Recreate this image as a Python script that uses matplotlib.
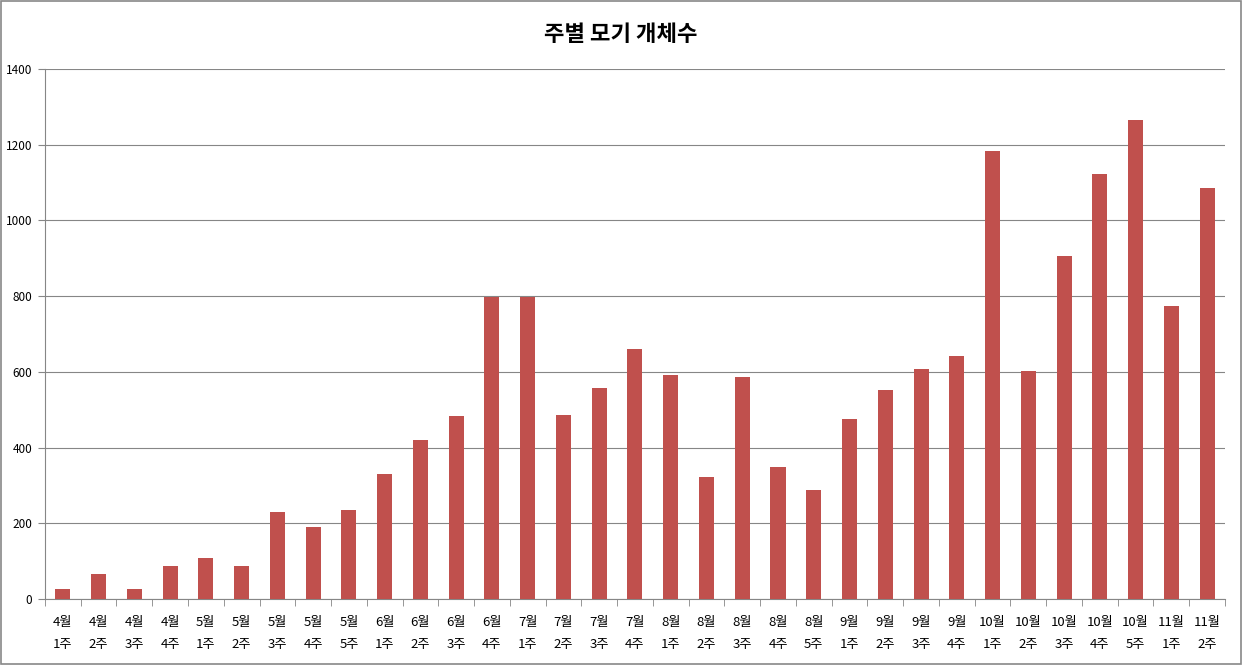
import numpy as np
import matplotlib.pyplot as plt
from matplotlib.patches import Rectangle

plt.rcParams['font.family'] = ['Noto Sans CJK KR', 'DejaVu Sans']

months = ['4월'] * 4 + ['5월'] * 5 + ['6월'] * 4 + ['7월'] * 4 + ['8월'] * 5 + \
         ['9월'] * 4 + ['10월'] * 5 + ['11월'] * 2
weeks = ['1주', '2주', '3주', '4주',
         '1주', '2주', '3주', '4주', '5주',
         '1주', '2주', '3주', '4주',
         '1주', '2주', '3주', '4주',
         '1주', '2주', '3주', '4주', '5주',
         '1주', '2주', '3주', '4주',
         '1주', '2주', '3주', '4주', '5주',
         '1주', '2주']
counts = [26, 66, 26, 87, 108, 87, 230, 190, 235, 330, 420, 483, 798,
          798, 486, 557, 660, 592, 322, 586, 349, 288, 475, 552, 607, 642,
          1183, 602, 906, 1122, 1265, 774, 1086]
yticks = [0, 200, 400, 600, 800, 1000, 1200, 1400]

fig = plt.figure(figsize=(12.42, 6.65), dpi=100)
fig.patches.append(Rectangle((0.001, 0.001), 0.998, 0.997, transform=fig.transFigure,
                             fill=False, edgecolor='#888888', linewidth=1.2))
ax = fig.add_axes([0.0362, 0.0992, 0.9501, 0.797])

x = np.arange(len(counts))
ax.bar(x, counts, width=0.42, color='#c0504d', zorder=3)

ax.set_xlim(-0.5, len(counts) - 0.5)
ax.set_ylim(0, 1400)
ax.set_yticks(yticks)
ax.set_yticklabels([str(v) for v in yticks], fontsize=8.5)
ax.yaxis.grid(True, color='#868686', linewidth=0.8, zorder=0)

ax.set_xticks(x)
ax.set_xticklabels([m + '\n' + w for m, w in zip(months, weeks)], fontsize=9.5,
                   linespacing=1.95)
ax.tick_params(axis='x', length=0, pad=12)
ax.set_xticks(np.arange(len(counts) + 1) - 0.5, minor=True)
ax.tick_params(axis='x', which='minor', length=5, color='#868686', direction='out')
ax.tick_params(axis='y', length=5, color='#868686', direction='out', pad=4)

for side in ['top', 'right']:
    ax.spines[side].set_visible(False)
ax.spines['left'].set_color('#868686')
ax.spines['bottom'].set_color('#868686')

fig.text(0.5, 0.948, '주별 모기 개체수', ha='center', va='center',
         fontsize=16, fontweight='bold')

fig.savefig('out.png', dpi=100)
